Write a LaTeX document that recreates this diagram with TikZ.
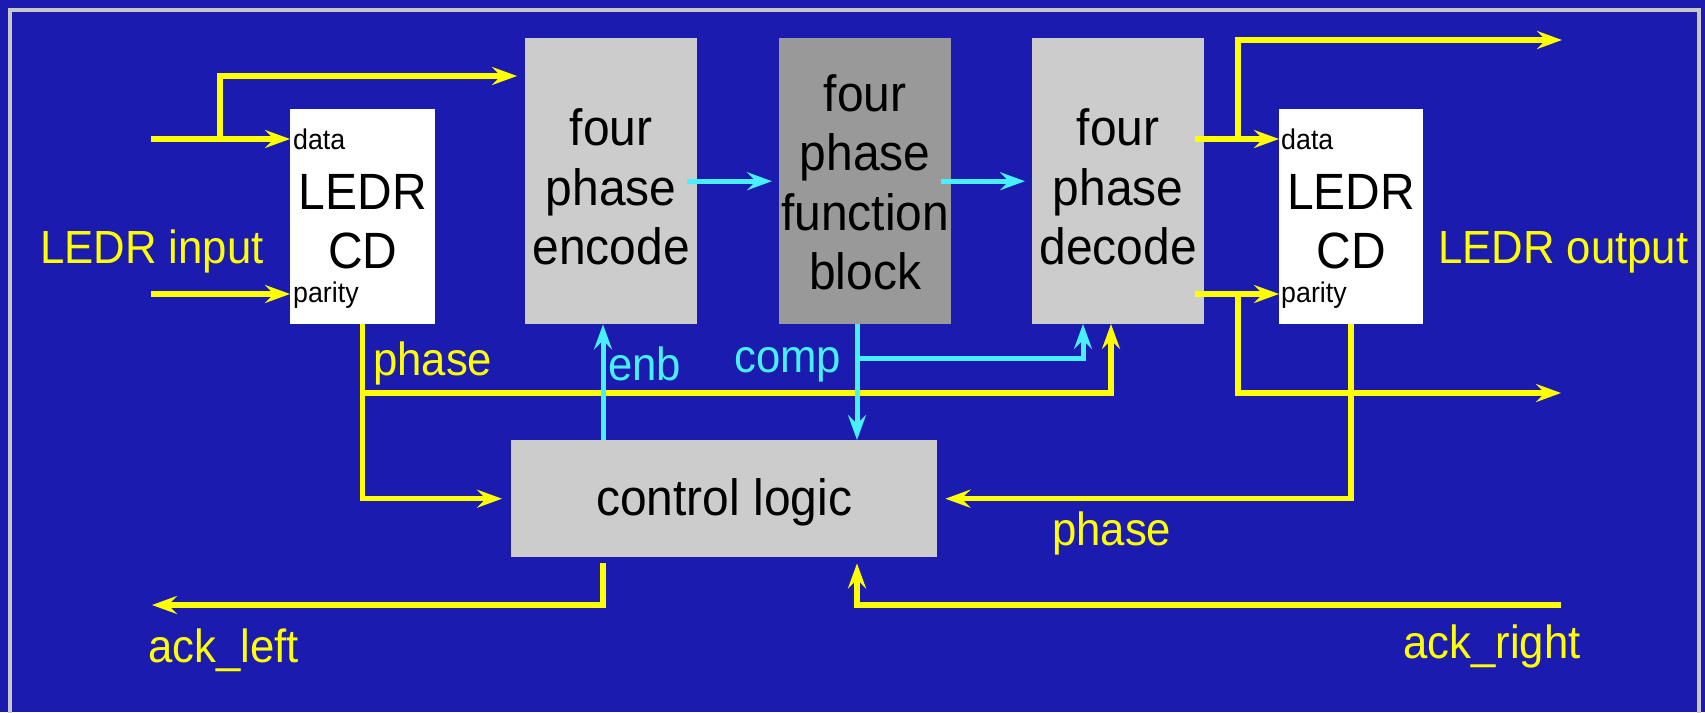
\documentclass[tikz,border=0pt]{standalone}
\usepackage{fontspec}
\newfontfamily\hv[FakeStretch=0.94]{Liberation Sans}
\usetikzlibrary{arrows.meta,calc}
\definecolor{bg}{RGB}{27,27,176}
\definecolor{sig}{RGB}{255,255,0}
\definecolor{ctlc}{RGB}{72,240,255}
\definecolor{boxgray}{RGB}{204,204,204}
\definecolor{fungray}{RGB}{153,153,153}
\definecolor{rim}{RGB}{200,200,200}

\begin{document}
\begin{tikzpicture}[x=1pt,y=-1pt,
  blk/.style={draw=none, inner sep=0pt, anchor=north west},
  btxt/.style={inner sep=0pt, align=center, text=black,
    font=\hv\fontsize{51}{59.5}\selectfont},
  port/.style={inner sep=0pt, anchor=base west, text=black,
    font=\hv\fontsize{28.5}{30}\selectfont},
  lbl/.style={inner sep=0pt, anchor=base west, text=sig,
    font=\hv\fontsize{46.5}{50}\selectfont},
  clbl/.style={lbl, text=ctlc},
  tip/.style={-{Stealth[length=25pt,width=18pt,inset=9pt]}},
  wire/.style={draw=sig, line width=5.5pt, tip},
  cwire/.style={draw=ctlc, line width=5pt, tip}
]
% canvas and frame
\useasboundingbox (0,0) rectangle (1705,712);
\fill[bg] (0,0) rectangle (1705,712);
\begin{scope}
  \clip (0,0) rectangle (1705,712);
  \draw[rim, line width=4pt] (10,9.5) rectangle (1699,740);
\end{scope}

% blocks
\node[blk, fill=white, minimum width=145pt, minimum height=215pt,
  label={[btxt, yshift=-5pt]center:LEDR\\CD}] (lcd) at (290,109) {};
\node[blk, fill=boxgray, minimum width=172pt, minimum height=286pt,
  label={[btxt, yshift=-6pt]center:four\\phase\\encode}] (enc) at (525,38) {};
\node[blk, fill=fungray, minimum width=172pt, minimum height=286pt,
  label={[btxt, yshift=-1pt]center:four\\phase\\function\\block}] (fun) at (779,38) {};
\node[blk, fill=boxgray, minimum width=172pt, minimum height=286pt,
  label={[btxt, yshift=-6pt]center:four\\phase\\decode}] (dec) at (1032,38) {};
\node[blk, fill=white, minimum width=144pt, minimum height=215pt,
  label={[btxt, yshift=-5pt]center:LEDR\\CD}] (rcd) at (1279,109) {};
\node[blk, fill=boxgray, minimum width=426pt, minimum height=117pt,
  label={[btxt, yshift=-4pt]center:control logic}] (ctl) at (511,440) {};

% port names
\node[port] (lcdD) at (293,149) {data};
\node[port] (lcdP) at (293,302) {parity};
\node[port] (rcdD) at (1281,149) {data};
\node[port] (rcdP) at (1281,302) {parity};

% signal labels
\node[lbl] (linL) at (40,263) {LEDR input};
\node[lbl] (loutL) at (1438,263) {LEDR output};
\node[lbl] (phL) at (373,375) {phase};
\node[clbl] (enbL) at (608,380) {enb};
\node[clbl] (compL) at (734,372) {comp};
\node[lbl] (phR) at (1052,545) {phase};
\node[lbl] (ackLL) at (148,662) {ack\_left};
\node[lbl] (ackRL) at (1403,658) {ack\_right};

% connection points
\coordinate (inD) at (151,139);
\coordinate (inP) at (151,294);
\coordinate (tapL) at (220,139);
\coordinate (encIn) at ($(enc.north west)+(0,38)$);
\coordinate (tapR) at (1238,139);
\coordinate (tapR2) at (1238,294);
\coordinate (outD) at (1562,40);
\coordinate (outP) at (1561,393);
\coordinate (busL) at (lcd.south |- 0,393);
\coordinate (phIn) at (1111,324);
\coordinate (enbX) at (603,0);
\coordinate (compX) at (857,0);
\coordinate (compTap) at (857,358);
\coordinate (compIn) at (1083,324);
\coordinate (ackL) at (152,605);
\coordinate (ackR) at (1561,605);

% left input side
\draw[wire] (inD) -- (inD -| lcd.west);
\draw[wire, shorten >=8pt] (tapL) |- (encIn);
\draw[wire] (inP) -- (inP -| lcd.west);

% datapath
\draw[cwire, shorten >=7pt] ([xshift=-10pt]enc.east) -- (fun.west);
\draw[cwire, shorten >=7pt] ([xshift=-10pt]fun.east) -- (dec.west);

% right output side
\draw[wire] ($(dec.east |- inD)+(-9,0)$) -- (rcd.west |- inD);
\draw[wire] (tapR) |- (outD);
\draw[wire] ($(dec.east |- inP)+(-9,0)$) -- (rcd.west |- inP);
\draw[wire] (tapR2) |- (outP);

% phase signals
\draw[wire, shorten >=9pt] (lcd.south) |- (ctl.west);
\draw[wire] (busL) -| (phIn);
\draw[wire, shorten >=8pt] (rcd.south) |- (ctl.east);

% enable and completion
\draw[cwire] (ctl.north -| enbX) -- (enc.south -| enbX);
\draw[cwire] (fun.south -| compX) -- (ctl.north -| compX);
\draw[cwire] (compTap) -| (compIn);

% acknowledges
\draw[wire] ($(ctl.south -| enbX)+(0,6)$) |- (ackL);
\draw[wire, shorten >=6pt] (ackR) -| (ctl.south -| compX);
\end{tikzpicture}
\end{document}
